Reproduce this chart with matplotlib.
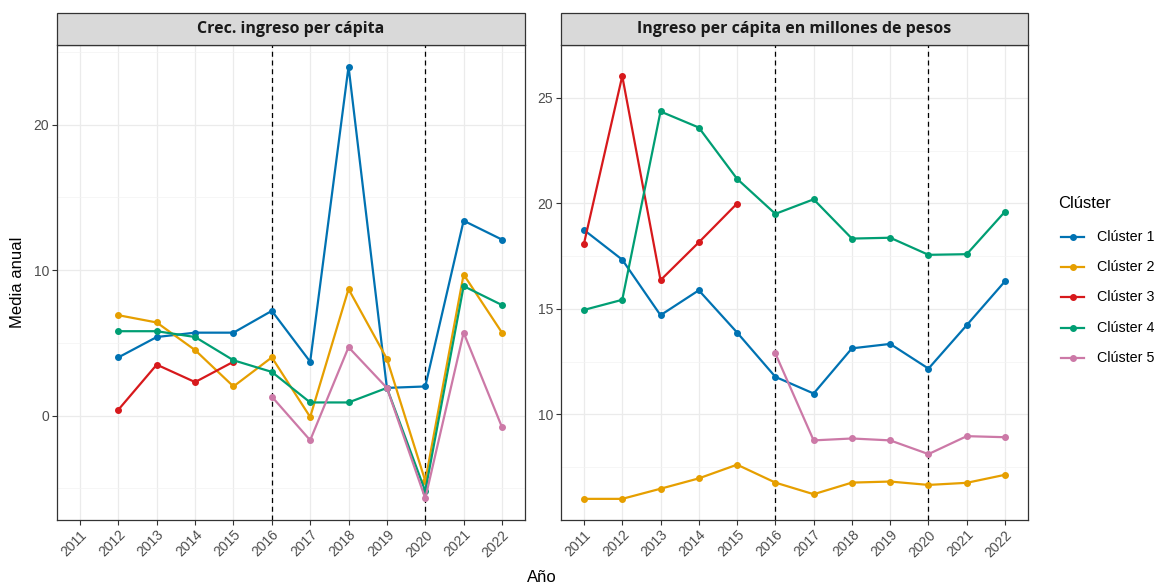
import numpy as np
import matplotlib
matplotlib.use("Agg")
import matplotlib.pyplot as plt
from matplotlib.patches import Rectangle
from matplotlib.lines import Line2D

years = list(range(2011, 2023))
year_labels = [str(y) for y in years]
clusters = ["Clúster 1", "Clúster 2", "Clúster 3", "Clúster 4", "Clúster 5"]
colors = ["#0072B2", "#E69F00", "#D7191C", "#009E73", "#CC79A7"]
nan = np.nan

# Panel 1: Crec. ingreso per cápita
crec_c1 = [nan, 4.0, 5.4, 5.7, 5.7, 7.2, 3.7, 24.0, 1.9, 2.0, 13.4, 12.1]
crec_c2 = [nan, 6.9, 6.4, 4.5, 2.0, 4.0, -0.1, 8.7, 3.9, -4.5, 9.7, 5.7]
crec_c3 = [nan, 0.4, 3.5, 2.3, 3.7, nan, nan, nan, nan, nan, nan, nan]
crec_c4 = [nan, 5.8, 5.8, 5.4, 3.8, 3.0, 0.9, 0.9, 1.9, -5.2, 8.9, 7.6]
crec_c5 = [nan, nan, nan, nan, nan, 1.3, -1.7, 4.7, 1.9, -5.7, 5.7, -0.8]

# Panel 2: Ingreso per cápita en millones de pesos
ing_c1 = [18.74, 17.33, 14.7, 15.88, 13.88, 11.78, 10.99, 13.13, 13.34, 12.17, 14.23, 16.31]
ing_c2 = [6.0, 6.0, 6.48, 6.97, 7.62, 6.77, 6.22, 6.77, 6.82, 6.66, 6.76, 7.14]
ing_c3 = [18.09, 26.03, 16.36, 18.15, 19.99, nan, nan, nan, nan, nan, nan, nan]
ing_c4 = [14.95, 15.43, 24.35, 23.59, 21.16, 19.5, 20.19, 18.33, 18.37, 17.56, 17.59, 19.61]
ing_c5 = [nan, nan, nan, nan, nan, 12.89, 8.77, 8.86, 8.77, 8.12, 8.97, 8.92]

vlines_years = [2016, 2020]
panel_titles = ["Crec. ingreso per cápita", "Ingreso per cápita en millones de pesos"]
left_ticks = [0, 10, 20]
right_ticks = [10, 15, 20, 25]

W, H = 1156, 585
fig = plt.figure(figsize=(W / 100, H / 100), dpi=100)
plt.rcParams['font.family'] = ['Liberation Sans', 'DejaVu Sans']

def fx(px):
    return px / W

def fy(py):
    return 1 - py / H

panels = [
    (57, 525, [crec_c1, crec_c2, crec_c3, crec_c4, crec_c5], left_ticks),
    (561, 1028, [ing_c1, ing_c2, ing_c3, ing_c4, ing_c5], right_ticks),
]
top_px, bot_px, strip_top = 45, 520, 13

x = np.arange(len(years))
for i, (l, r, series, ticks) in enumerate(panels):
    ax = fig.add_axes([fx(l), fy(bot_px), fx(r - l), (bot_px - top_px) / H])
    allv = np.concatenate([np.array(s, dtype=float) for s in series])
    vmin, vmax = np.nanmin(allv), np.nanmax(allv)
    pad = 0.05 * (vmax - vmin)
    ax.set_ylim(vmin - pad, vmax + pad)
    ax.set_xlim(-0.6, len(years) - 0.4)
    ax.set_xticks(x)
    ax.set_xticklabels(year_labels, rotation=45, ha='right', va='top',
                       rotation_mode='anchor', fontsize=10, color='#4D4D4D')
    ax.set_yticks(ticks)
    ax.set_yticklabels([str(t) for t in ticks], fontsize=10, color='#4D4D4D')
    minor = [(a + b) / 2 for a, b in zip(ticks[:-1], ticks[1:])]
    step = ticks[1] - ticks[0]
    minor = [ticks[0] - step / 2] + minor + [ticks[-1] + step / 2]
    ax.set_yticks(minor, minor=True)
    ax.tick_params(axis='y', which='minor', length=0)
    ax.tick_params(axis='both', which='major', length=3.5, width=0.8, color='#333333', pad=2)
    ax.grid(True, which='major', color='#EBEBEB', lw=0.9, zorder=0)
    ax.grid(True, which='minor', axis='y', color='#F3F3F3', lw=0.5, zorder=0)
    ax.set_axisbelow(True)
    for sp in ax.spines.values():
        sp.set_color('#333333')
        sp.set_linewidth(0.9)
    for vy in vlines_years:
        ax.axvline(years.index(vy), color='black', ls=(0, (4, 3)), lw=0.9, zorder=1)
    for s, c in zip(series, colors):
        ax.plot(x, s, color=c, lw=1.6, marker='o', ms=4, zorder=3)
    # strip
    fig.patches.append(Rectangle((fx(l), fy(top_px)), fx(r - l), (top_px - strip_top) / H,
                                 transform=fig.transFigure, facecolor='#D9D9D9',
                                 edgecolor='#333333', lw=0.9))
    fig.text(fx((l + r) / 2), fy((top_px + strip_top) / 2), panel_titles[i],
             ha='center', va='center', fontsize=11.5, fontweight='bold',
             color='#1A1A1A', family=['Open Sans', 'DejaVu Sans'])

fig.text(fx(18), fy(282), "Media anual", rotation=90, ha='center', va='center',
         fontsize=12, color='black')
fig.text(fx(542), fy(577), "Año", ha='center', va='center', fontsize=12, color='black')

# legend
fig.text(fx(1058), fy(204), "Clúster", ha='left', va='center', fontsize=12, color='black')
for k, (name, c) in enumerate(zip(clusters, colors)):
    yy = fy(237 + 30.2 * k)
    fig.add_artist(Line2D([fx(1061), fx(1084)], [yy, yy], color=c, lw=1.6,
                          transform=fig.transFigure))
    fig.add_artist(Line2D([fx(1072.5)], [yy], color=c, marker='o', ms=4,
                          transform=fig.transFigure))
    fig.text(fx(1097), yy, name, ha='left', va='center', fontsize=10.3, color='black')

fig.savefig("out.png", dpi=100)
